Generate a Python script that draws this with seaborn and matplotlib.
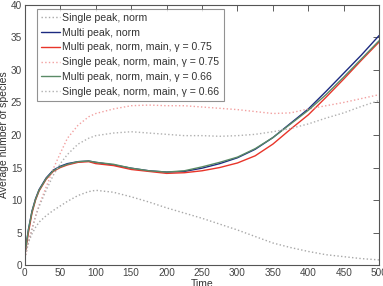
import numpy as np
import pandas as pd
import matplotlib
matplotlib.use('Agg')
import matplotlib.pyplot as plt
import seaborn as sns

# Datos
time = [0, 5, 10, 15, 20, 30, 40, 50, 60, 75, 90, 100, 125, 150, 175, 200,
        225, 250, 275, 300, 325, 350, 375, 400, 425, 450, 475, 500]

single_norm = [1.5, 3.5, 4.8, 5.8, 6.6, 7.6, 8.4, 9.1, 9.8, 10.7, 11.3, 11.5, 11.2, 10.5,
               9.7, 8.8, 8.0, 7.2, 6.3, 5.4, 4.4, 3.4, 2.7, 2.1, 1.6, 1.3, 1.0, 0.8]
multi_norm = [1.8, 5.5, 8.3, 10.2, 11.6, 13.4, 14.6, 15.2, 15.6, 15.9, 16.0, 15.8, 15.4, 14.9,
              14.5, 14.3, 14.4, 14.9, 15.6, 16.5, 17.8, 19.6, 21.8, 24.0, 26.7, 29.5, 32.3, 35.3]
multi_075 = [1.5, 5.0, 8.0, 10.0, 11.4, 13.2, 14.4, 15.0, 15.4, 15.8, 15.9, 15.6, 15.3, 14.7,
             14.4, 14.1, 14.2, 14.5, 15.0, 15.7, 16.8, 18.6, 20.9, 23.1, 25.8, 28.6, 31.5, 34.3]
single_075 = [1.0, 3.5, 5.5, 7.5, 9.2, 12.0, 14.8, 17.2, 19.5, 21.5, 22.8, 23.3, 24.0, 24.5,
              24.6, 24.5, 24.5, 24.3, 24.1, 23.9, 23.6, 23.3, 23.4, 24.0, 24.5, 25.0, 25.6, 26.2]
multi_066 = [1.7, 5.4, 8.2, 10.1, 11.5, 13.3, 14.5, 15.1, 15.5, 15.9, 16.0, 15.8, 15.5, 14.9,
             14.5, 14.3, 14.5, 15.1, 15.8, 16.6, 17.9, 19.6, 21.7, 23.8, 26.2, 28.9, 31.7, 34.5]
single_066 = [1.0, 3.5, 5.5, 7.5, 9.0, 11.5, 13.8, 15.6, 17.0, 18.6, 19.5, 19.9, 20.3, 20.5,
              20.3, 20.1, 19.9, 19.9, 19.8, 19.9, 20.1, 20.5, 21.0, 21.7, 22.6, 23.4, 24.4, 25.3]

labels = ['Single peak, norm', 'Multi peak, norm', 'Multi peak, norm, main, \u03b3 = 0.75',
          'Single peak, norm, main, \u03b3 = 0.75', 'Multi peak, norm, main, \u03b3 = 0.66',
          'Single peak, norm, main, \u03b3 = 0.66']
series = [single_norm, multi_norm, multi_075, single_075, multi_066, single_066]
colors = ['#a8a8a8', '#1c2a80', '#e8352a', '#f2a0a0', '#5a8a66', '#b0b0b0']
styles = [':', '-', '-', ':', '-', ':']

sns.set_style('white')
plt.rcParams['font.family'] = ['Liberation Sans', 'DejaVu Sans']

fig = plt.figure(figsize=(3.83, 2.86), dpi=100)
ax = fig.add_axes([0.065, 0.073, 0.925, 0.91])

for lab, vals, c, ls in zip(labels, series, colors, styles):
    df = pd.DataFrame({'Time': time, 'value': vals})
    sns.lineplot(data=df, x='Time', y='value', ax=ax, color=c, linestyle=ls,
                 linewidth=1.0, label=lab)

ax.set_xlim(0, 500)
ax.set_ylim(0, 40)
ax.set_xticks(range(0, 501, 50))
ax.set_yticks(range(0, 41, 5))
ax.set_xlabel('Time', fontsize=7.5, color='#333333', labelpad=1)
ax.set_ylabel('Average number of species', fontsize=7.5, color='#333333', labelpad=1)
ax.tick_params(direction='in', top=True, right=True, length=4, width=0.6,
               labelsize=7.2, colors='#444444', pad=2)
for s in ax.spines.values():
    s.set_color('#555555')
    s.set_linewidth(0.8)

leg = ax.legend(loc='upper left', bbox_to_anchor=(0.034, 0.985), borderaxespad=0,
                fontsize=7.6, frameon=True, fancybox=False,
                handlelength=1.8, handletextpad=0.2, borderpad=0.4, labelspacing=0.45)
leg.get_frame().set_edgecolor('#777777')
leg.get_frame().set_linewidth(0.8)
for t in leg.get_texts():
    t.set_color('#333333')

fig.savefig('out.png', dpi=100)
